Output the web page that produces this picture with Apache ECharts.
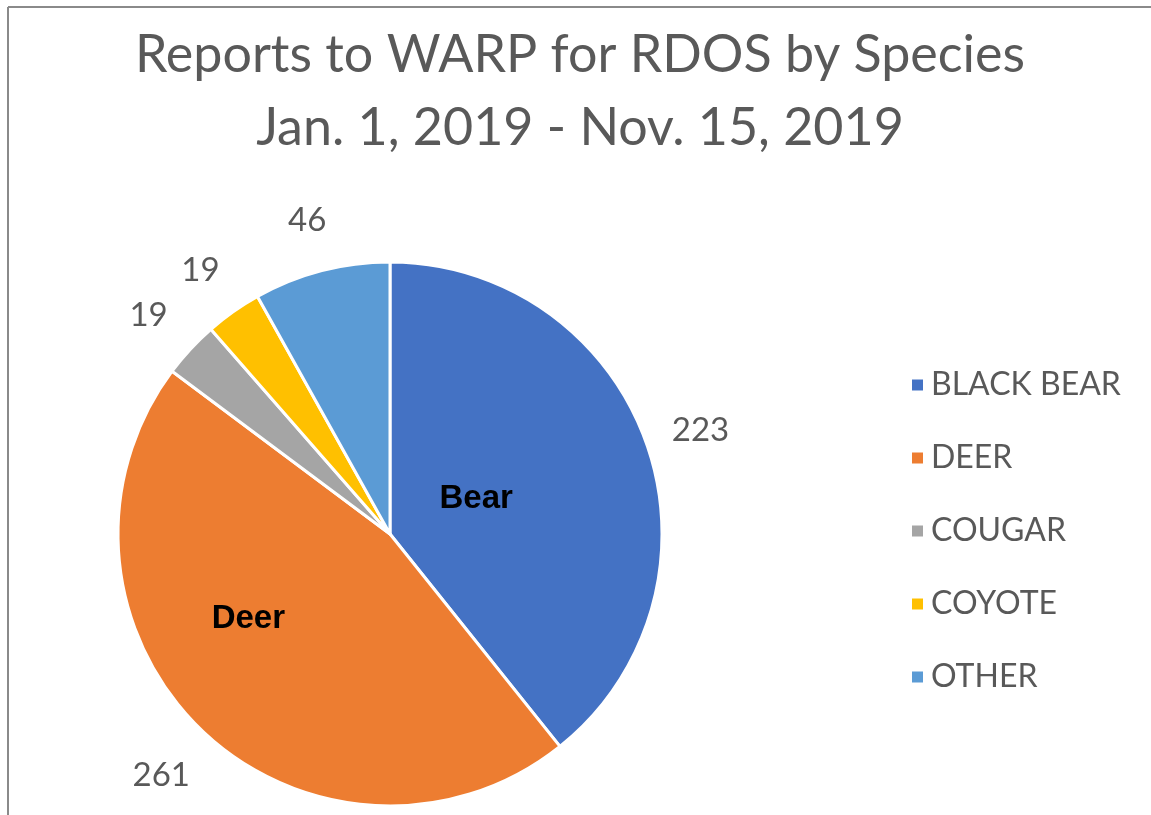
<!DOCTYPE html>
<html>
<head>
<meta charset="utf-8">
<script src="https://cdn.jsdelivr.net/npm/echarts@6/dist/echarts.min.js"></script>
<style>
html,body{margin:0;padding:0;background:#fff;}
#c{width:1151px;height:815px;}
</style>
</head>
<body>
<div id="c"></div>
<script>
const titleLines = ["Reports to WARP for RDOS by Species", "Jan. 1, 2019 - Nov. 15, 2019"];
const categories = ["BLACK BEAR", "DEER", "COUGAR", "COYOTE", "OTHER"];
const values = [223, 261, 19, 19, 46];
const innerNames = ["Bear", "Deer", "", "", ""];
const colors = ["#4472C4", "#ED7D31", "#A5A5A5", "#FFC000", "#5B9BD5"];

const innerOffsets = [[-45, 11], [-45, -15], [0, 0], [0, 0], [0, 0]];

const chart = echarts.init(document.getElementById('c'));
const center = [390, 534];

const mainData = categories.map((n, i) => ({
  name: n, value: values[i],
  itemStyle: { color: colors[i] },
  label: { offset: innerOffsets[i] }
}));
const labelData = categories.map((n, i) => ({ name: n, value: values[i] }));

chart.setOption({
  animation: false,
  backgroundColor: '#fff',
  title: {
    text: titleLines.join('\n'),
    left: 575, textAlign: 'center', top: 14,
    textStyle: { fontFamily: 'Lato', fontWeight: 'normal', fontSize: 52, color: '#595959', lineHeight: 73 }
  },
  legend: {
    orient: 'vertical', left: 905, top: 364,
    itemWidth: 13, itemHeight: 13, itemGap: 41,
    icon: 'rect',
    data: categories,
    textStyle: { fontFamily: 'Lato', fontSize: 32, color: '#595959', padding: [0, 0, 0, 2] }
  },
  graphic: [
    { type: 'line', shape: { x1: 8, y1: 7, x2: 1151, y2: 7 }, style: { stroke: '#8a8a8a', lineWidth: 2 } },
    { type: 'line', shape: { x1: 8, y1: 7, x2: 8, y2: 815 }, style: { stroke: '#8a8a8a', lineWidth: 2 } }
  ],
  series: [
    {
      type: 'pie', center: center, radius: 272, clockwise: true, startAngle: 90,
      data: mainData,
      itemStyle: { borderColor: '#fff', borderWidth: 3 },
      label: {
        show: true, position: 'inside',
        formatter: p => innerNames[p.dataIndex],
        fontFamily: 'Liberation Sans', fontWeight: 'bold', fontSize: 33, color: '#000'
      },
      labelLine: { show: false },
      emphasis: { disabled: true }
    },
    {
      type: 'pie', center: center, radius: [294, 358], clockwise: true, startAngle: 90,
      silent: true, legendHoverLink: false,
      data: labelData,
      itemStyle: { color: 'rgba(0,0,0,0)' },
      label: {
        show: true, position: 'inside', formatter: '{c}', offset: [0, 5],
        fontFamily: 'Lato', fontSize: 33, color: '#595959'
      },
      labelLine: { show: false },
      emphasis: { disabled: true }
    }
  ]
});
</script>
</body>
</html>
